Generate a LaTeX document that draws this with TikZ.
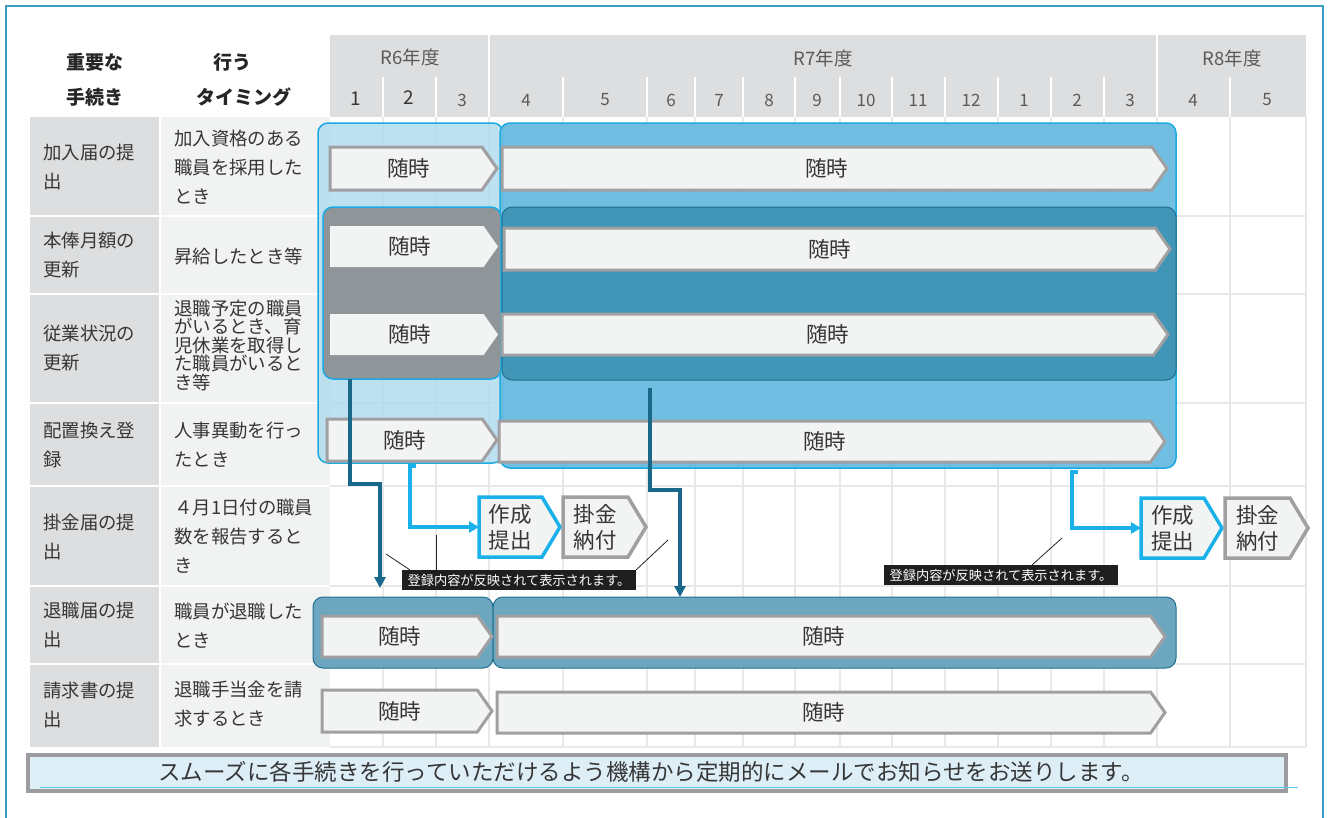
\documentclass[tikz,border=0pt]{standalone}
\usepackage{fontspec}
\setmainfont{Noto Sans CJK JP}
\usetikzlibrary{shapes.symbols,arrows.meta,calc}
\definecolor{frameblue}{HTML}{3A9EC6}
\definecolor{hdrgray}{HTML}{DDDEDF}
\definecolor{colA}{HTML}{DDDEDF}
\definecolor{colB}{HTML}{F1F2F2}
\definecolor{gridline}{HTML}{E8E8E9}
\definecolor{lightblue}{HTML}{B2DCEF}
\definecolor{midblue}{HTML}{69BCE1}
\definecolor{cyanb}{HTML}{1BAAE2}
\definecolor{grayblk}{HTML}{8F9599}
\definecolor{tealblk}{HTML}{4195B6}
\definecolor{tealdark}{HTML}{1F6F8F}
\definecolor{rowteal}{HTML}{6DA7BF}
\definecolor{chevfill}{HTML}{F2F3F3}
\definecolor{chevline}{HTML}{A0A0A2}
\definecolor{arrteal}{HTML}{1A6889}
\definecolor{arrcyan}{HTML}{1AB1EA}
\definecolor{bannerfill}{HTML}{DDEEF7}
\definecolor{bannerline}{HTML}{9C9C9E}
\definecolor{txt}{HTML}{363636}
\definecolor{hdrtxt}{HTML}{5A5A5A}
\tikzset{
  chev/.style={signal, signal to=east, signal pointer angle=110, draw=chevline, line width=3pt,
    fill=chevfill, inner sep=0pt, outer sep=0pt, font=\fontsize{21.5}{24}\selectfont, text=txt, anchor=west},
  chevnb/.style={chev, draw=none},
  stepbox/.style={signal, signal to=east, signal pointer angle=118, line width=3.5pt, fill=chevfill,
    inner sep=0pt, outer sep=0pt, minimum width=81pt, minimum height=60pt, align=center,
    font=\fontsize{21.5}{26}\selectfont, text=txt, anchor=west},
  cellA/.style={anchor=west, align=left, inner sep=0pt, font=\fontsize{18.4}{29}\selectfont, text=txt},
  cellB/.style={cellA},
  hdr/.style={font=\fontsize{18.5}{20}\selectfont, text=hdrtxt, inner sep=0pt},
  mon/.style={font=\fontsize{17}{19}\selectfont, text=hdrtxt, inner sep=0pt},
  lefthdr/.style={font=\bfseries\fontsize{19}{21}\selectfont, text=black!85, inner sep=0pt},
  blk/.style={rounded corners=10pt, line width=1.5pt},
  tealarrow/.style={arrteal, line width=3.2pt, -{Triangle[width=11pt,length=11pt]}},
  cyanarrow/.style={arrcyan, line width=3.5pt, -{Triangle[width=11pt,length=10pt]}},
  callout/.style={fill=black!88, text=white, font=\fontsize{13.2}{15}\selectfont, inner sep=0pt,
    minimum width=234pt, minimum height=20pt},
}
\begin{document}
\begin{tikzpicture}[x=1pt,y=-1pt]
\clip (0,0) rectangle (1328,817);
\fill[white] (0,0) rectangle (1328,817);
% outer frame
\draw[frameblue, line width=2.5pt] (6,6) rectangle (1323,860);

% header band
\fill[hdrgray] (330,35) rectangle (1306,117);
\foreach \x in {383,436,563,647,695,743,795,840,892,945,998,1051,1104,1230}
  \draw[white, line width=1.5pt] (\x,77) -- (\x,117);
\foreach \x in {489,1157}
  \draw[white, line width=1.5pt] (\x,35) -- (\x,117);
\node[hdr] (y6) at (410,57) {R6年度};
\node[hdr] (y7) at (823,58) {R7年度};
\node[hdr] (y8) at (1232,58) {R8年度};
\node[mon, font=\fontsize{19}{21}\selectfont, text=txt] (m1) at (356,99) {1};
\node[mon, font=\fontsize{19}{21}\selectfont, text=txt] (m2) at (409,98) {2};
\node[mon] (m3) at (462,100) {3};
\node[mon] (m4) at (526,100) {4};
\node[mon] (m5) at (605,100) {5};
\node[mon] (m6) at (671,100) {6};
\node[mon] (m7) at (719,100) {7};
\node[mon] (m8) at (769,100) {8};
\node[mon] (m9) at (817,100) {9};
\node[mon] (m10) at (866,100) {10};
\node[mon] (m11) at (918,100) {11};
\node[mon] (m12) at (971,100) {12};
\node[mon] (m13) at (1024,100) {1};
\node[mon] (m14) at (1077,100) {2};
\node[mon] (m15) at (1130,100) {3};
\node[mon] (m16) at (1193,100) {4};
\node[mon] (m17) at (1267,100) {5};

\node[lefthdr] (h1a) at (95,62) {重要な};
\node[lefthdr] (h1b) at (95,97) {手続き};
\node[lefthdr] (h2a) at (232,62) {行う};
\node[lefthdr] (h2b) at (244,97) {タイミング};

% left columns
\foreach \a/\b in {117/215,217/293,295/402,404/485,487/585,587/663,665/747}{
  \fill[colA] (30,\a) rectangle (159,\b);
  \fill[colB] (161,\a) rectangle (330,\b);
}
% grid
\foreach \x in {383,436,489,563,647,695,743,795,840,892,945,998,1051,1104,1157,1230,1306}
  \draw[gridline, line width=1.5pt] (\x,117) -- (\x,747);
\foreach \y in {216,294,403,486,586,664,747}
  \draw[gridline, line width=1.5pt] (330,\y) -- (1306,\y);

% cell texts
\node[cellA] (a1) at (43,167.5) {加入届の提\\出};
\node[cellB] (b1) at (174,167) {加入資格のある\\職員を採用した\\とき};
\node[cellA] (a2) at (43,255.5) {本俸月額の\\更新};
\node[cellB] (b2) at (174,256) {昇給したとき等};
\node[cellA] (a3) at (43,348.5) {従業状況の\\更新};
\node[cellB, font=\fontsize{18.4}{18.5}\selectfont] (b3) at (174,345) {退職予定の職員\\がいるとき、育\\児休業を取得し\\た職員がいると\\き等};
\node[cellA] (a4) at (43,444.5) {配置換え登\\録};
\node[cellB] (b4) at (174,445) {人事異動を行っ\\たとき};
\node[cellA] (a5) at (43,536.5) {掛金届の提\\出};
\node[cellB] (b5) at (174,536) {４月1日付の職員\\数を報告すると\\き};
\node[cellA] (a6) at (43,625.5) {退職届の提\\出};
\node[cellB] (b6) at (174,625.5) {職員が退職した\\とき};
\node[cellA] (a7) at (43,704.5) {請求書の提\\出};
\node[cellB] (b7) at (174,704.5) {退職手当金を請\\求するとき};

% overlay blocks
\draw[blk, fill=lightblue, fill opacity=0.85, draw=cyanb] (318,123) rectangle (503,463);
\draw[blk, fill=midblue, fill opacity=0.95, draw=cyanb] (500,123) rectangle (1176,468);
\draw[blk, fill=grayblk, draw=cyanb] (323,207) rectangle (501,379);
\draw[blk, fill=tealblk, draw=tealdark, line width=1pt] (502,207) rectangle (1176,380);
\draw[blk, fill=rowteal, draw=tealdark, line width=1pt] (313,597) rectangle (493,668);
\draw[blk, fill=rowteal, draw=tealdark, line width=1pt] (493,597) rectangle (1176,668);

% chevrons
\node[chev, minimum width=167pt, minimum height=43pt] (c1a) at (330,168.5) {\hspace*{6pt}随時};
\node[chev, minimum width=665pt, minimum height=43pt] (c1b) at (502,168.5) {随時};
\node[chevnb, minimum width=168pt, minimum height=41pt] (c2a) at (330,246.5) {\hspace*{6pt}随時};
\node[chev, minimum width=666pt, minimum height=42pt] (c2b) at (504,249) {随時};
\node[chevnb, minimum width=168pt, minimum height=41pt] (c3a) at (330,334.5) {\hspace*{6pt}随時};
\node[chev, minimum width=666pt, minimum height=41pt] (c3b) at (502,334.5) {随時};
\node[chev, minimum width=170pt, minimum height=42pt] (c4a) at (327,440) {随時};
\node[chev, minimum width=666pt, minimum height=41pt] (c4b) at (499,441.5) {随時};
\node[chev, minimum width=170pt, minimum height=41pt] (c6a) at (322,636.5) {随時};
\node[chev, minimum width=668pt, minimum height=41pt] (c6b) at (497,636.5) {随時};
\node[chev, minimum width=170pt, minimum height=42pt] (c7a) at (322,711) {随時};
\node[chev, minimum width=668pt, minimum height=41pt] (c7b) at (497,712.5) {随時};

% row 5 step boxes
\node[stepbox, draw=arrcyan] (s1) at (479,527) {作成\\提出};
\node[stepbox, draw=chevline, minimum width=83pt] (s2) at (563,527) {掛金\\納付};
\node[stepbox, draw=arrcyan] (s3) at (1141,528) {作成\\提出};
\node[stepbox, draw=chevline, minimum width=83pt] (s4) at (1225,528) {掛金\\納付};

% callouts
\node[callout] (co1) at (519,580) {登録内容が反映されて表示されます。};
\node[callout] (co2) at (1001,575) {登録内容が反映されて表示されます。};
\coordinate (l1) at (386,554);
\coordinate (l2) at (436,535);
\coordinate (l3) at (668,540);
\coordinate (l4) at (1062,538);
\draw[black!85, line width=0.8pt] (l1) -- ($(co1.north west)+(8,0)$);
\draw[black!85, line width=0.8pt] (l2) -- (l2 |- co1.north);
\draw[black!85, line width=0.8pt] (l3) -- (co1.north east);
\draw[black!85, line width=0.8pt] (l4) -- ($(co2.north east)+(-86,0)$);

% connector arrows
\coordinate (t1s) at (350,379);
\coordinate (t1e) at (380,588);
\coordinate (t2s) at (650,388);
\coordinate (t2e) at (680,597);
\draw[tealarrow] (t1s) -- ++(0,105) -| (t1e);
\draw[tealarrow] (t2s) -- ++(0,102) -| (t2e);
\coordinate (k1s) at (416,466);
\coordinate (k2s) at (1078,472);
\draw[cyanarrow] (k1s) -- ++(-6,0) |- (s1.west);
\draw[cyanarrow] (k2s) -- ++(-6,0) |- (s3.west);

% banner
\draw[draw=bannerline, line width=4pt, fill=bannerfill] (28,755) rectangle (1286,791);
\draw[arrcyan!70, line width=1pt] (40,787.5) -- (1298,787.5);
\node[font=\fontsize{22.5}{25}\selectfont, text=txt, inner sep=0pt] (bn) at (651,772)
  {スムーズに各手続きを行っていただけるよう機構から定期的にメールでお知らせをお送りします。};
\end{tikzpicture}
\end{document}
